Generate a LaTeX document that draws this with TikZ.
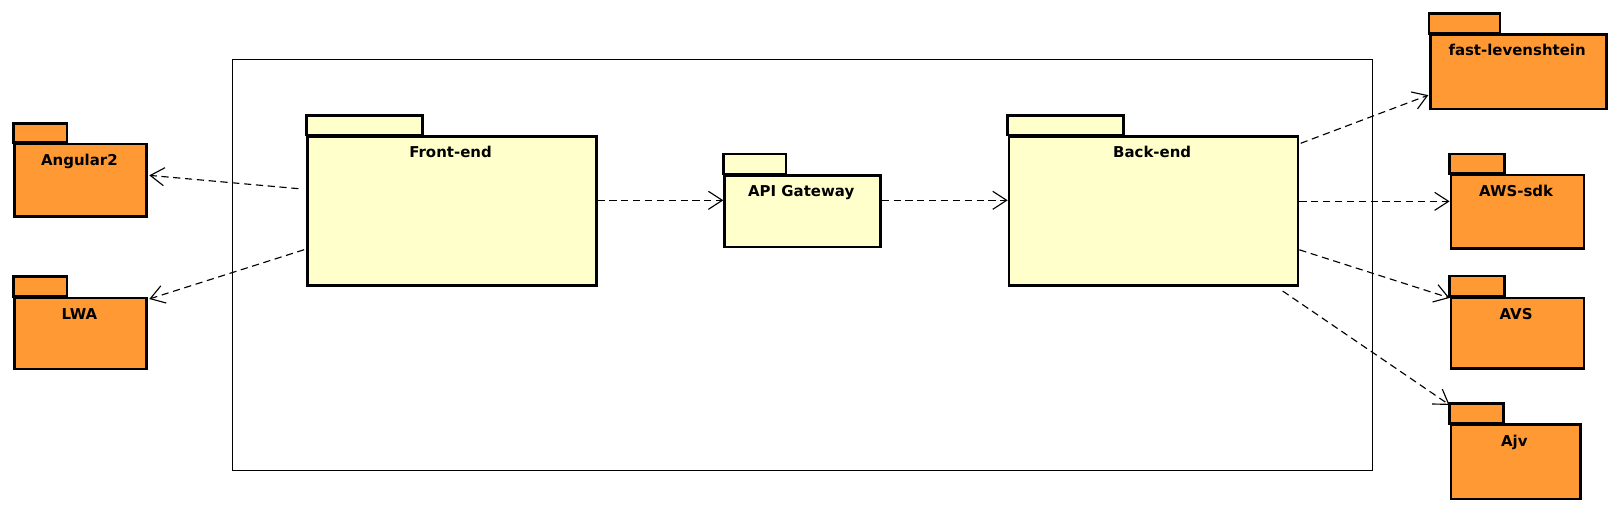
\documentclass[tikz,border=0pt]{standalone}
\usepackage{fontspec}
\setmainfont{DejaVu Sans}
\usetikzlibrary{arrows.meta}
\definecolor{pkgorange}{RGB}{255,153,51}
\definecolor{pkgyellow}{RGB}{255,255,204}
\tikzset{
  pkgline/.style={draw=black, line width=2.6pt, line join=miter},
  pkgbody/.style={pkgline, rectangle, inner sep=0pt, anchor=north west},
  pkglabel/.style={anchor=base, inner sep=0pt, font=\fontsize{14.5}{16}\selectfont\bfseries},
  dep/.style={draw=black, line width=1.1pt, dash pattern=on 7pt off 4.5pt,
    -{Straight Barb[length=13.5pt, width=17.5pt, line width=1.1pt]}},
  sysbox/.style={draw=black, line width=1pt, rectangle, inner sep=0pt, anchor=north west}
}
% name, x1, x2, tabRight, tabTop, bodyTop, bottom, label, fill
\newcommand\umlpkg[9]{%
  \draw[pkgline, fill=#9] (#2,#6) rectangle (#4,#5);
  \node[pkgbody, fill=#9, minimum width={(#3-#2)*1pt}, minimum height={(#7-#6)*1pt}] (#1) at (#2,#6) {};
  \node[pkglabel] (#1-l) at ({(#2+#3)/2},{#6+22}) {#8};
}
\begin{document}
\begin{tikzpicture}[x=1pt, y=-1pt]
\useasboundingbox (0,0) rectangle (1568.4,494.7);
\node[sysbox, minimum width=1106pt, minimum height=398.4pt] (sys) at (225,57.5) {};

\umlpkg{ang}{13}{141}{65}{119.5}{138.4}{208.5}{Angular2}{pkgorange}
\umlpkg{lwa}{13}{141}{65}{268.5}{287.7}{356.5}{LWA}{pkgorange}
\umlpkg{fe}{297}{577}{410}{112}{131}{275.5}{Front-end}{pkgyellow}
\umlpkg{api}{701.6}{852.6}{762.4}{149.4}{168.8}{238.3}{API Gateway}{pkgyellow}
\umlpkg{be}{977.4}{1257.7}{1090}{112.2}{131}{275.8}{Back-end}{pkgyellow}
\umlpkg{fl}{1386}{1557}{1455}{12.9}{32.3}{104.4}{fast-levenshtein}{pkgorange}
\umlpkg{aws}{1406}{1535}{1459}{149.4}{168.5}{240}{AWS-sdk}{pkgorange}
\umlpkg{avs}{1406}{1535}{1459}{267.7}{287.7}{356.3}{AVS}{pkgorange}
\umlpkg{ajv}{1406}{1531.6}{1458}{391.2}{410.6}{482.7}{Ajv}{pkgorange}

% connectors
\draw[dep] ([xshift=-7.5pt, yshift=21.55pt]fe.west) -- ([xshift=1.2pt, yshift=4.65pt]ang.east);
\draw[dep] ([xshift=-2pt, yshift=-37.65pt]fe.west) -- ([xshift=1.2pt, yshift=-2.3pt]lwa.north east);
\coordinate (a1) at ([yshift=10.25pt]fe.east);
\draw[dep] (a1) -- (a1 -| api.west);
\coordinate (a2) at ([yshift=10.55pt]api.east);
\draw[dep] (a2) -- (a2 -| be.west);
\draw[dep] ([xshift=1.3pt, yshift=-8pt]be.north east) -- ([xshift=-0.6pt, yshift=-22.65pt]fl.west);
\coordinate (a3) at ([yshift=9.4pt]be.east);
\draw[dep] (a3) -- (a3 -| aws.west);
\draw[dep] ([yshift=-37.6pt]be.east) -- ([yshift=-1.3pt]avs.north west);
\draw[dep] ([xshift=-16.2pt, yshift=-3.9pt]be.south east) -- ([yshift=17.8pt]ajv.north west);
\end{tikzpicture}
\end{document}
